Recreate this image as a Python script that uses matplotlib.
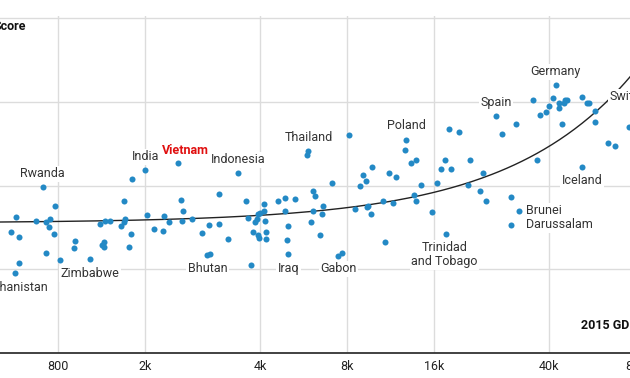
import matplotlib
matplotlib.use("Agg")
import matplotlib.pyplot as plt
import numpy as np

plt.rcParams["font.family"] = ["Roboto", "DejaVu Sans"]

# ---------------------------------------------------------------------------
# Data
# ---------------------------------------------------------------------------
gdp = [
    783, 572, 671, 725, 751, 746, 549, 585, 775, 725, 815, 586, 918, 911,
    1121, 1166, 1214, 1353, 1361, 1353, 1318, 1435, 1405, 1136, 1157, 1151,
    1439, 1622, 1866, 1932, 1719, 1843, 2137, 2166, 2144, 2336, 2526, 2671,
    2886, 3099, 2692, 2886, 3573, 3644, 3793, 3948, 3980, 3846, 3898, 3948,
    4000, 4140, 4140, 4163, 4186, 4196, 3733, 4628, 4901, 5287, 4881, 4987,
    4979, 5802, 6103, 6216, 6088, 6006, 6452, 6592, 6540, 7700, 7073, 8160,
    8559, 8873, 9110, 9271, 9778, 9382, 9479, 9706, 10657, 11152, 11821,
    11560, 10871, 12680, 13322, 13886, 13677, 13886, 14462, 15774, 16388,
    16878, 17424, 18364, 18031, 19568, 20977, 21262, 23084, 23643, 24253,
    27571, 30742, 29659, 29612, 35213, 36441, 37234, 39058, 39907, 41296,
    43318, 43200, 44368, 45081, 45442, 46172, 52035, 54151, 55020, 57711,
    57711, 64021, 67854, 75655,
]
score = [
    375, 362, 358, 356, 360, 351, 345, 338, 342, 320, 311, 307, 334, 325,
    354, 358, 358, 381, 360, 356, 352, 342, 327, 329, 333, 327,
    408, 365, 364, 357, 348, 346, 383, 370, 358, 360, 343, 353,
    354, 336, 318, 390, 382, 361, 345, 341, 337, 357, 360, 366,
    367, 378, 369, 358, 345, 336, 305, 381, 385, 384, 370, 352,
    335, 437, 394, 388, 369, 357, 341, 375, 366, 320, 403, 460,
    372, 399, 412, 405, 422, 374, 376, 366, 381, 415, 410,
    379, 332, 442, 427, 431, 389, 381, 401, 368, 403,
    420, 431, 420, 468, 464, 401, 431, 393, 415, 381,
    461, 474, 386, 353, 502, 431, 484, 488, 495, 504,
    498, 492, 473, 499, 502, 502, 506, 499, 499, 489,
    476, 451, 447, 470,
]

label_names = [
    "Rwanda", "India", "Vietnam", "Indonesia", "Thailand", "Poland", "Spain",
    "Germany", "Switzerland", "Iceland", "Brunei\nDarussalam",
    "Trinidad\nand Tobago", "Zimbabwe", "Afghanistan", "Bhutan", "Iraq", "Gabon",
]
label_gdp = [
    708, 1600, 2077, 3357, 5886, 12751, 26283, 42194, 86000, 51911, 31535,
    17577, 1032, 568, 2628, 5019, 7475,
]
label_score = [
    398, 418, 427, 415, 441, 454, 483, 520, 490, 422, 370,
    342, 312, 295, 317, 318, 316,
]

# linear fit of score on GDP
trend_intercept = 355.25
trend_slope = 0.0022866

tick_values = [800, 1600, 4000, 8000, 16000, 40000, 80000]
tick_labels = ["800", "2k", "4k", "8k", "16k", "40k", "80k"]
score_ticks = [200, 300, 400, 500, 600]

# label placement: (dx, dy) in points, horizontal alignment
label_layout = {
    "Rwanda": (0, 9.5, "center"),
    "India": (0.4, 10, "center"),
    "Vietnam": (5.6, 8.6, "center"),
    "Indonesia": (0, 9.4, "center"),
    "Thailand": (0, 9.9, "center"),
    "Poland": (0.4, 10.3, "center"),
    "Spain": (0, 9.9, "center"),
    "Germany": (0, 9.4, "center"),
    "Switzerland": (-25.7, 9.6, "left"),
    "Iceland": (0.2, -10, "center"),
    "Brunei\nDarussalam": (4.9, -5, "left"),
    "Trinidad\nand Tobago": (-1, -14.9, "center"),
    "Zimbabwe": (0, -10.3, "center"),
    "Afghanistan": (0, -9.8, "center"),
    "Bhutan": (0.1, -9.6, "center"),
    "Iraq": (0.1, -10.4, "center"),
    "Gabon": (0.2, -9.4, "center"),
}

DOT = "#2389c5"
GRID = "#dcdcdc"
TEXT = "#333333"
RED = "#e01010"

# ---------------------------------------------------------------------------
# Layout: the axes run past the figure edges (cropped chart)
# ---------------------------------------------------------------------------
W, H = 630, 378
fig = plt.figure(figsize=(W / 100, H / 100), dpi=100)

PX_LEFT, PX_RIGHT = -60, 690          # axes extent in figure pixels
X_REF_PX, X_REF_VAL, PX_PER_DEC = 58, 800, 289
Y_BOTTOM_PX, PX_PER_UNIT = 353, 0.8375
Y_MIN, Y_MAX = 200, 602


def px_to_gdp(px):
    return X_REF_VAL * 10 ** ((px - X_REF_PX) / PX_PER_DEC)


ax_h = (Y_MAX - Y_MIN) * PX_PER_UNIT
ax = fig.add_axes([
    PX_LEFT / W, (H - Y_BOTTOM_PX) / H,
    (PX_RIGHT - PX_LEFT) / W, ax_h / H,
])
ax.set_xscale("log")
ax.set_xlim(px_to_gdp(PX_LEFT), px_to_gdp(PX_RIGHT))
ax.set_ylim(Y_MIN, Y_MAX)

ax.set_xticks(tick_values)
ax.set_xticklabels(tick_labels)
ax.xaxis.set_minor_locator(matplotlib.ticker.NullLocator())
ax.set_yticks(score_ticks)
ax.tick_params(axis="both", length=0, labelsize=9, colors="#222222")
ax.tick_params(axis="x", pad=5)

ax.grid(True, color=GRID, linewidth=1.0, zorder=0)
ax.set_axisbelow(True)
for side in ("left", "right", "top"):
    ax.spines[side].set_visible(False)
ax.spines["bottom"].set_color("#333333")
ax.spines["bottom"].set_linewidth(1.3)

# trend curve
xs = np.logspace(np.log10(px_to_gdp(PX_LEFT)), np.log10(px_to_gdp(PX_RIGHT)), 300)
ax.plot(xs, trend_intercept + trend_slope * xs, color="#222222", lw=1.0, zorder=2)

# dots
ax.scatter(gdp, score, s=19, color=DOT, linewidths=0, zorder=4)
ax.scatter(label_gdp, label_score, s=19, color=DOT, linewidths=0, zorder=4)

# country labels
for name, gx, sy in zip(label_names, label_gdp, label_score):
    dx, dy, ha = label_layout[name]
    is_vn = name == "Vietnam"
    ax.annotate(
        name, xy=(gx, sy), xytext=(dx, dy), textcoords="offset points",
        ha=ha, va="center", fontsize=9, linespacing=1.1,
        multialignment=ha,
        color=RED if is_vn else TEXT,
        fontweight="bold" if is_vn else "normal",
        bbox=dict(boxstyle="square,pad=0.12", fc="white", ec="none"),
        zorder=3,
    )

fig.text(26 / W, 1 - 26 / H, "Score", ha="right", va="center",
         fontsize=9, fontweight="bold", color="#111111")
fig.text(581 / W, 1 - 326 / H, "2015 GDP per capita", ha="left", va="center",
         fontsize=9, fontweight="bold", color="#111111")

fig.savefig("out.png", dpi=100)
